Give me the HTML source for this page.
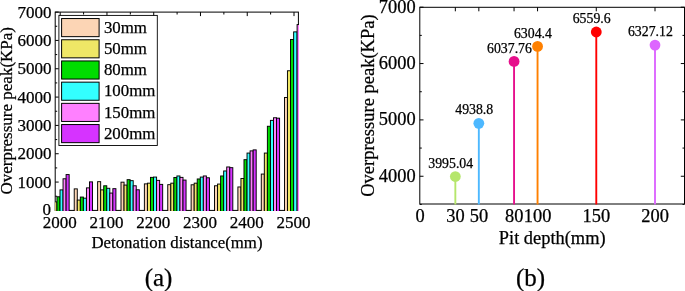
<!DOCTYPE html>
<html><head><meta charset="utf-8"><title>Overpressure peak</title>
<style>
html,body{margin:0;padding:0;background:#fff;}
svg{display:block;font-family:"Liberation Serif", serif;fill:#000;}
text{stroke:#000;stroke-width:0.25px;}
</style></head>
<body>
<svg width="685" height="291" viewBox="0 0 685 291">
<rect x="0" y="0" width="685" height="291" fill="#fff"/>
<clipPath id="ca"><rect x="55.2" y="0" width="243.8" height="210.9"/></clipPath>
<rect x="55.2" y="12.1" width="243.2" height="198.3" fill="none" stroke="#000" stroke-width="1"/>
<line x1="55.2" y1="210.40" x2="58.7" y2="210.40" stroke="#000" stroke-width="1"/>
<line x1="55.2" y1="196.24" x2="57.2" y2="196.24" stroke="#000" stroke-width="1"/>
<line x1="55.2" y1="182.07" x2="58.7" y2="182.07" stroke="#000" stroke-width="1"/>
<line x1="55.2" y1="167.91" x2="57.2" y2="167.91" stroke="#000" stroke-width="1"/>
<line x1="55.2" y1="153.74" x2="58.7" y2="153.74" stroke="#000" stroke-width="1"/>
<line x1="55.2" y1="139.58" x2="57.2" y2="139.58" stroke="#000" stroke-width="1"/>
<line x1="55.2" y1="125.41" x2="58.7" y2="125.41" stroke="#000" stroke-width="1"/>
<line x1="55.2" y1="111.25" x2="57.2" y2="111.25" stroke="#000" stroke-width="1"/>
<line x1="55.2" y1="97.09" x2="58.7" y2="97.09" stroke="#000" stroke-width="1"/>
<line x1="55.2" y1="82.92" x2="57.2" y2="82.92" stroke="#000" stroke-width="1"/>
<line x1="55.2" y1="68.76" x2="58.7" y2="68.76" stroke="#000" stroke-width="1"/>
<line x1="55.2" y1="54.59" x2="57.2" y2="54.59" stroke="#000" stroke-width="1"/>
<line x1="55.2" y1="40.43" x2="58.7" y2="40.43" stroke="#000" stroke-width="1"/>
<line x1="55.2" y1="26.26" x2="57.2" y2="26.26" stroke="#000" stroke-width="1"/>
<line x1="55.2" y1="12.10" x2="58.7" y2="12.10" stroke="#000" stroke-width="1"/>
<line x1="60.20" y1="12.1" x2="60.20" y2="16.1" stroke="#000" stroke-width="1"/>
<line x1="83.58" y1="12.1" x2="83.58" y2="14.5" stroke="#000" stroke-width="1"/>
<line x1="106.96" y1="12.1" x2="106.96" y2="16.1" stroke="#000" stroke-width="1"/>
<line x1="130.34" y1="12.1" x2="130.34" y2="14.5" stroke="#000" stroke-width="1"/>
<line x1="153.72" y1="12.1" x2="153.72" y2="16.1" stroke="#000" stroke-width="1"/>
<line x1="177.10" y1="12.1" x2="177.10" y2="14.5" stroke="#000" stroke-width="1"/>
<line x1="200.48" y1="12.1" x2="200.48" y2="16.1" stroke="#000" stroke-width="1"/>
<line x1="223.86" y1="12.1" x2="223.86" y2="14.5" stroke="#000" stroke-width="1"/>
<line x1="247.24" y1="12.1" x2="247.24" y2="16.1" stroke="#000" stroke-width="1"/>
<line x1="270.62" y1="12.1" x2="270.62" y2="14.5" stroke="#000" stroke-width="1"/>
<line x1="294.00" y1="12.1" x2="294.00" y2="16.1" stroke="#000" stroke-width="1"/>
<g clip-path="url(#ca)">
<rect x="50.86" y="195.47" width="3.05" height="17.93" fill="#fcd5b5" stroke="#000" stroke-width="0.95"/>
<rect x="53.91" y="201.88" width="3.05" height="11.53" fill="#efe766" stroke="#000" stroke-width="0.95"/>
<rect x="56.96" y="196.78" width="3.05" height="16.62" fill="#00dd00" stroke="#000" stroke-width="0.95"/>
<rect x="60.01" y="189.88" width="3.05" height="23.53" fill="#33ffff" stroke="#000" stroke-width="0.95"/>
<rect x="63.05" y="178.78" width="3.05" height="34.62" fill="#ff80ff" stroke="#000" stroke-width="0.95"/>
<rect x="66.10" y="174.57" width="3.05" height="38.83" fill="#d633ff" stroke="#000" stroke-width="0.95"/>
<rect x="74.23" y="188.88" width="3.05" height="24.53" fill="#fcd5b5" stroke="#000" stroke-width="0.95"/>
<rect x="77.28" y="200.07" width="3.05" height="13.33" fill="#efe766" stroke="#000" stroke-width="0.95"/>
<rect x="80.33" y="197.07" width="3.05" height="16.33" fill="#00dd00" stroke="#000" stroke-width="0.95"/>
<rect x="83.38" y="198.17" width="3.05" height="15.23" fill="#33ffff" stroke="#000" stroke-width="0.95"/>
<rect x="86.44" y="187.88" width="3.05" height="25.53" fill="#ff80ff" stroke="#000" stroke-width="0.95"/>
<rect x="89.48" y="181.88" width="3.05" height="31.53" fill="#d633ff" stroke="#000" stroke-width="0.95"/>
<rect x="97.61" y="181.67" width="3.05" height="31.73" fill="#fcd5b5" stroke="#000" stroke-width="0.95"/>
<rect x="100.66" y="189.88" width="3.05" height="23.53" fill="#efe766" stroke="#000" stroke-width="0.95"/>
<rect x="103.71" y="185.78" width="3.05" height="27.62" fill="#00dd00" stroke="#000" stroke-width="0.95"/>
<rect x="106.76" y="188.28" width="3.05" height="25.12" fill="#33ffff" stroke="#000" stroke-width="0.95"/>
<rect x="109.81" y="193.07" width="3.05" height="20.33" fill="#ff80ff" stroke="#000" stroke-width="0.95"/>
<rect x="112.86" y="188.67" width="3.05" height="24.73" fill="#d633ff" stroke="#000" stroke-width="0.95"/>
<rect x="121.00" y="182.17" width="3.05" height="31.23" fill="#fcd5b5" stroke="#000" stroke-width="0.95"/>
<rect x="124.05" y="185.07" width="3.05" height="28.33" fill="#efe766" stroke="#000" stroke-width="0.95"/>
<rect x="127.09" y="179.67" width="3.05" height="33.73" fill="#00dd00" stroke="#000" stroke-width="0.95"/>
<rect x="130.15" y="180.67" width="3.05" height="32.73" fill="#33ffff" stroke="#000" stroke-width="0.95"/>
<rect x="133.19" y="185.78" width="3.05" height="27.62" fill="#ff80ff" stroke="#000" stroke-width="0.95"/>
<rect x="136.25" y="189.78" width="3.05" height="23.62" fill="#d633ff" stroke="#000" stroke-width="0.95"/>
<rect x="144.38" y="183.88" width="3.05" height="29.53" fill="#fcd5b5" stroke="#000" stroke-width="0.95"/>
<rect x="147.43" y="183.17" width="3.05" height="30.23" fill="#efe766" stroke="#000" stroke-width="0.95"/>
<rect x="150.47" y="177.38" width="3.05" height="36.03" fill="#00dd00" stroke="#000" stroke-width="0.95"/>
<rect x="153.53" y="177.07" width="3.05" height="36.33" fill="#33ffff" stroke="#000" stroke-width="0.95"/>
<rect x="156.57" y="180.38" width="3.05" height="33.03" fill="#ff80ff" stroke="#000" stroke-width="0.95"/>
<rect x="159.62" y="184.38" width="3.05" height="29.03" fill="#d633ff" stroke="#000" stroke-width="0.95"/>
<rect x="167.75" y="184.67" width="3.05" height="28.73" fill="#fcd5b5" stroke="#000" stroke-width="0.95"/>
<rect x="170.81" y="183.17" width="3.05" height="30.23" fill="#efe766" stroke="#000" stroke-width="0.95"/>
<rect x="173.85" y="177.47" width="3.05" height="35.93" fill="#00dd00" stroke="#000" stroke-width="0.95"/>
<rect x="176.91" y="175.97" width="3.05" height="37.43" fill="#33ffff" stroke="#000" stroke-width="0.95"/>
<rect x="179.95" y="177.38" width="3.05" height="36.03" fill="#ff80ff" stroke="#000" stroke-width="0.95"/>
<rect x="183.00" y="180.07" width="3.05" height="33.33" fill="#d633ff" stroke="#000" stroke-width="0.95"/>
<rect x="191.13" y="184.78" width="3.05" height="28.62" fill="#fcd5b5" stroke="#000" stroke-width="0.95"/>
<rect x="194.19" y="183.17" width="3.05" height="30.23" fill="#efe766" stroke="#000" stroke-width="0.95"/>
<rect x="197.23" y="178.97" width="3.05" height="34.43" fill="#00dd00" stroke="#000" stroke-width="0.95"/>
<rect x="200.28" y="177.07" width="3.05" height="36.33" fill="#33ffff" stroke="#000" stroke-width="0.95"/>
<rect x="203.33" y="175.97" width="3.05" height="37.43" fill="#ff80ff" stroke="#000" stroke-width="0.95"/>
<rect x="206.38" y="177.78" width="3.05" height="35.62" fill="#d633ff" stroke="#000" stroke-width="0.95"/>
<rect x="214.51" y="185.78" width="3.05" height="27.62" fill="#fcd5b5" stroke="#000" stroke-width="0.95"/>
<rect x="217.56" y="184.07" width="3.05" height="29.33" fill="#efe766" stroke="#000" stroke-width="0.95"/>
<rect x="220.61" y="175.97" width="3.05" height="37.43" fill="#00dd00" stroke="#000" stroke-width="0.95"/>
<rect x="223.66" y="170.97" width="3.05" height="42.43" fill="#33ffff" stroke="#000" stroke-width="0.95"/>
<rect x="226.71" y="166.97" width="3.05" height="46.43" fill="#ff80ff" stroke="#000" stroke-width="0.95"/>
<rect x="229.76" y="167.67" width="3.05" height="45.73" fill="#d633ff" stroke="#000" stroke-width="0.95"/>
<rect x="237.89" y="186.97" width="3.05" height="26.43" fill="#fcd5b5" stroke="#000" stroke-width="0.95"/>
<rect x="240.94" y="178.47" width="3.05" height="34.93" fill="#efe766" stroke="#000" stroke-width="0.95"/>
<rect x="243.99" y="159.67" width="3.05" height="53.73" fill="#00dd00" stroke="#000" stroke-width="0.95"/>
<rect x="247.04" y="153.07" width="3.05" height="60.33" fill="#33ffff" stroke="#000" stroke-width="0.95"/>
<rect x="250.09" y="150.88" width="3.05" height="62.53" fill="#ff80ff" stroke="#000" stroke-width="0.95"/>
<rect x="253.14" y="149.88" width="3.05" height="63.53" fill="#d633ff" stroke="#000" stroke-width="0.95"/>
<rect x="261.28" y="174.07" width="3.05" height="39.33" fill="#fcd5b5" stroke="#000" stroke-width="0.95"/>
<rect x="264.33" y="153.07" width="3.05" height="60.33" fill="#efe766" stroke="#000" stroke-width="0.95"/>
<rect x="267.38" y="126.27" width="3.05" height="87.13" fill="#00dd00" stroke="#000" stroke-width="0.95"/>
<rect x="270.43" y="120.38" width="3.05" height="93.03" fill="#33ffff" stroke="#000" stroke-width="0.95"/>
<rect x="273.48" y="117.77" width="3.05" height="95.63" fill="#ff80ff" stroke="#000" stroke-width="0.95"/>
<rect x="276.53" y="118.17" width="3.05" height="95.23" fill="#d633ff" stroke="#000" stroke-width="0.95"/>
<rect x="284.50" y="97.47" width="2.95" height="115.93" fill="#fcd5b5" stroke="#000" stroke-width="0.95"/>
<rect x="287.45" y="70.77" width="3.05" height="142.62" fill="#efe766" stroke="#000" stroke-width="0.95"/>
<rect x="290.50" y="39.48" width="3.15" height="173.93" fill="#00dd00" stroke="#000" stroke-width="0.95"/>
<rect x="293.65" y="31.88" width="3.45" height="181.53" fill="#33ffff" stroke="#000" stroke-width="0.95"/>
<rect x="297.10" y="24.58" width="3.10" height="188.82" fill="#ff80ff" stroke="#000" stroke-width="0.95"/>
<rect x="300.20" y="30.48" width="3.10" height="182.93" fill="#d633ff" stroke="#000" stroke-width="0.95"/>
</g>
<rect x="58.9" y="15.4" width="98.4" height="130.1" fill="#fff" stroke="#000" stroke-width="0.9"/>
<rect x="61.6" y="18.55" width="37.5" height="18.1" fill="#fcd5b5" stroke="#000" stroke-width="1"/>
<text x="103.9" y="33.00" font-size="16.85">30mm</text>
<rect x="61.6" y="39.75" width="37.5" height="18.1" fill="#efe766" stroke="#000" stroke-width="1"/>
<text x="103.9" y="54.15" font-size="16.85">50mm</text>
<rect x="61.6" y="60.95" width="37.5" height="18.1" fill="#00dd00" stroke="#000" stroke-width="1"/>
<text x="103.9" y="75.30" font-size="16.85">80mm</text>
<rect x="61.6" y="82.15" width="37.5" height="18.1" fill="#33ffff" stroke="#000" stroke-width="1"/>
<text x="103.9" y="96.45" font-size="16.85">100mm</text>
<rect x="61.6" y="103.35" width="37.5" height="18.1" fill="#ff80ff" stroke="#000" stroke-width="1"/>
<text x="103.9" y="117.60" font-size="16.85">150mm</text>
<rect x="61.6" y="124.55" width="37.5" height="18.1" fill="#d633ff" stroke="#000" stroke-width="1"/>
<text x="103.9" y="138.75" font-size="16.85">200mm</text>
<text x="50.9" y="214.90" font-size="17.0" text-anchor="end">0</text>
<text x="51.4" y="187.67" font-size="17.0" text-anchor="end">1000</text>
<text x="51.4" y="159.34" font-size="17.0" text-anchor="end">2000</text>
<text x="51.4" y="131.01" font-size="17.0" text-anchor="end">3000</text>
<text x="51.4" y="102.69" font-size="17.0" text-anchor="end">4000</text>
<text x="51.4" y="74.36" font-size="17.0" text-anchor="end">5000</text>
<text x="51.4" y="46.03" font-size="17.0" text-anchor="end">6000</text>
<text x="51.4" y="17.70" font-size="17.0" text-anchor="end">7000</text>
<text x="59.80" y="227.5" font-size="17.0" text-anchor="middle">2000</text>
<text x="106.56" y="227.5" font-size="17.0" text-anchor="middle">2100</text>
<text x="153.32" y="227.5" font-size="17.0" text-anchor="middle">2200</text>
<text x="200.08" y="227.5" font-size="17.0" text-anchor="middle">2300</text>
<text x="246.84" y="227.5" font-size="17.0" text-anchor="middle">2400</text>
<text x="293.60" y="227.5" font-size="17.0" text-anchor="middle">2500</text>
<text x="177.0" y="247.8" font-size="16.8" text-anchor="middle">Detonation distance(mm)</text>
<text transform="translate(12.4 110.8) rotate(-90)" font-size="17.0" text-anchor="middle">Overpressure peak(KPa)</text>
<text x="158.5" y="285.5" font-size="25.0" text-anchor="middle">(a)</text>
<rect x="419.8" y="7.3" width="264.7" height="196.7" fill="none" stroke="#000" stroke-width="1"/>
<line x1="419.8" y1="204.42" x2="421.8" y2="204.42" stroke="#000" stroke-width="1"/>
<line x1="684.5" y1="204.42" x2="682.5" y2="204.42" stroke="#000" stroke-width="1"/>
<line x1="419.8" y1="176.25" x2="423.5" y2="176.25" stroke="#000" stroke-width="1"/>
<line x1="684.5" y1="176.25" x2="680.8" y2="176.25" stroke="#000" stroke-width="1"/>
<line x1="419.8" y1="148.07" x2="421.8" y2="148.07" stroke="#000" stroke-width="1"/>
<line x1="684.5" y1="148.07" x2="682.5" y2="148.07" stroke="#000" stroke-width="1"/>
<line x1="419.8" y1="119.90" x2="423.5" y2="119.90" stroke="#000" stroke-width="1"/>
<line x1="684.5" y1="119.90" x2="680.8" y2="119.90" stroke="#000" stroke-width="1"/>
<line x1="419.8" y1="91.72" x2="421.8" y2="91.72" stroke="#000" stroke-width="1"/>
<line x1="684.5" y1="91.72" x2="682.5" y2="91.72" stroke="#000" stroke-width="1"/>
<line x1="419.8" y1="63.55" x2="423.5" y2="63.55" stroke="#000" stroke-width="1"/>
<line x1="684.5" y1="63.55" x2="680.8" y2="63.55" stroke="#000" stroke-width="1"/>
<line x1="419.8" y1="35.38" x2="421.8" y2="35.38" stroke="#000" stroke-width="1"/>
<line x1="684.5" y1="35.38" x2="682.5" y2="35.38" stroke="#000" stroke-width="1"/>
<line x1="419.8" y1="7.20" x2="423.5" y2="7.20" stroke="#000" stroke-width="1"/>
<line x1="684.5" y1="7.20" x2="680.8" y2="7.20" stroke="#000" stroke-width="1"/>
<line x1="455.34" y1="7.3" x2="455.34" y2="11.3" stroke="#000" stroke-width="1"/>
<line x1="478.83" y1="7.3" x2="478.83" y2="11.3" stroke="#000" stroke-width="1"/>
<line x1="514.06" y1="7.3" x2="514.06" y2="11.3" stroke="#000" stroke-width="1"/>
<line x1="537.55" y1="7.3" x2="537.55" y2="11.3" stroke="#000" stroke-width="1"/>
<line x1="596.28" y1="7.3" x2="596.28" y2="11.3" stroke="#000" stroke-width="1"/>
<line x1="655.00" y1="7.3" x2="655.00" y2="11.3" stroke="#000" stroke-width="1"/>
<line x1="455.34" y1="176.53" x2="455.34" y2="204.5" stroke="#b5e66b" stroke-width="1.9"/>
<circle cx="455.34" cy="176.53" r="5.4" fill="#b5e66b"/>
<text x="450.74" y="167.63" font-size="13.8" text-anchor="middle">3995.04</text>
<line x1="478.83" y1="123.35" x2="478.83" y2="204.5" stroke="#4db8ff" stroke-width="1.9"/>
<circle cx="478.83" cy="123.35" r="5.4" fill="#4db8ff"/>
<text x="474.23" y="114.45" font-size="13.8" text-anchor="middle">4938.8</text>
<line x1="514.06" y1="61.42" x2="514.06" y2="204.5" stroke="#e6108c" stroke-width="1.9"/>
<circle cx="514.06" cy="61.42" r="5.4" fill="#e6108c"/>
<text x="509.46" y="52.52" font-size="13.8" text-anchor="middle">6037.76</text>
<line x1="537.55" y1="46.40" x2="537.55" y2="204.5" stroke="#ff8000" stroke-width="1.9"/>
<circle cx="537.55" cy="46.40" r="5.4" fill="#ff8000"/>
<text x="532.95" y="37.50" font-size="13.8" text-anchor="middle">6304.4</text>
<line x1="596.28" y1="32.02" x2="596.28" y2="204.5" stroke="#ff0000" stroke-width="1.9"/>
<circle cx="596.28" cy="32.02" r="5.4" fill="#ff0000"/>
<text x="591.68" y="23.12" font-size="13.8" text-anchor="middle">6559.6</text>
<line x1="655.00" y1="45.12" x2="655.00" y2="204.5" stroke="#dd66ff" stroke-width="1.9"/>
<circle cx="655.00" cy="45.12" r="5.4" fill="#dd66ff"/>
<text x="650.40" y="36.22" font-size="13.8" text-anchor="middle">6327.12</text>
<text x="415.6" y="181.65" font-size="18.4" text-anchor="end">4000</text>
<text x="415.6" y="125.30" font-size="18.4" text-anchor="end">5000</text>
<text x="415.6" y="68.95" font-size="18.4" text-anchor="end">6000</text>
<text x="415.6" y="12.50" font-size="18.4" text-anchor="end">7000</text>
<text x="420.20" y="222.2" font-size="18.4" text-anchor="middle">0</text>
<text x="455.44" y="222.2" font-size="18.4" text-anchor="middle">30</text>
<text x="478.93" y="222.2" font-size="18.4" text-anchor="middle">50</text>
<text x="514.16" y="222.2" font-size="18.4" text-anchor="middle">80</text>
<text x="537.65" y="222.2" font-size="18.4" text-anchor="middle">100</text>
<text x="596.38" y="222.2" font-size="18.4" text-anchor="middle">150</text>
<text x="655.10" y="222.2" font-size="18.4" text-anchor="middle">200</text>
<text x="552.2" y="244.0" font-size="18.4" text-anchor="middle">Pit depth(mm)</text>
<text transform="translate(374.2 105.6) rotate(-90)" font-size="18.5" text-anchor="middle">Overpressure peak(KPa)</text>
<text x="530.5" y="285.5" font-size="25.0" text-anchor="middle">(b)</text>
</svg>
</body></html>
